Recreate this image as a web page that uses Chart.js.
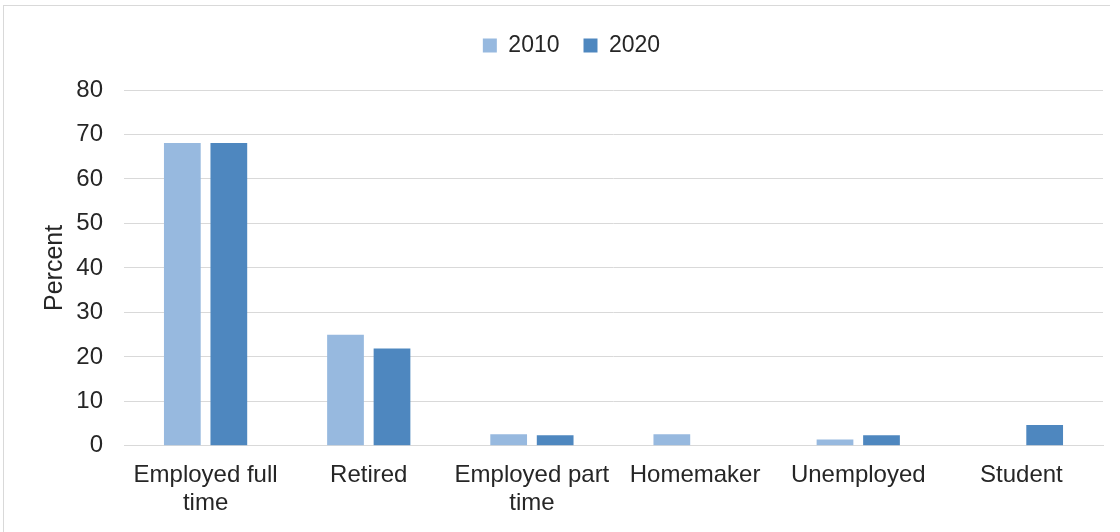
<!DOCTYPE html>
<html>
<head>
<meta charset="utf-8">
<script src="https://cdn.jsdelivr.net/npm/chart.js@4.4.1/dist/chart.umd.min.js"></script>
<style>
    html, body { margin: 0; padding: 0; background: #fff; }
    #wrap { position: relative; width: 1120px; height: 532px; overflow: hidden; }
    #frame { position: absolute; left: 3px; top: 5px; width: 1107px; height: 540px;
             border-top: 1px solid #d9d9d9; border-left: 1px solid #d9d9d9; box-sizing: border-box; }
    #chart { position: absolute; left: 0; top: 0; }
</style>
</head>
<body>
<div id="wrap">
    <div id="frame"></div>
    <canvas id="chart" width="1120" height="532"></canvas>
</div>
<script>
// Employment status, percent of respondents
const categories = [
    ['Employed full', 'time'],
    'Retired',
    ['Employed part', 'time'],
    'Homemaker',
    'Unemployed',
    'Student'
];
const seriesNames = ['2010', '2020'];
const values2010 = [68.1, 25.0, 2.6, 2.6, 1.4, 0];
const values2020 = [68.1, 21.9, 2.4, 0, 2.4, 4.7];
const yTicks = [0, 10, 20, 30, 40, 50, 60, 70, 80];

const colors = ['#97b9df', '#4e87bf'];
const textColor = '#262626';
const gridColor = '#d9d9d9';
const FONT = '"Liberation Sans", Arial, sans-serif';

Chart.defaults.font.family = FONT;
Chart.defaults.color = textColor;

// extra room between the legend and the plot
const legendGap = {
    id: 'legendGap',
    beforeInit(chart) {
        const fit = chart.legend.fit;
        chart.legend.fit = function () {
            fit.call(this);
            this.height += 23;
        };
    }
};

new Chart(document.getElementById('chart').getContext('2d'), {
    type: 'bar',
    data: {
        labels: categories,
        datasets: [
            { label: seriesNames[0], data: values2010, backgroundColor: colors[0] },
            { label: seriesNames[1], data: values2020, backgroundColor: colors[1] }
        ]
    },
    plugins: [legendGap],
    options: {
        responsive: false,
        animation: false,
        devicePixelRatio: 1,
        categoryPercentage: 0.57,
        barPercentage: 0.79,
        layout: { padding: { left: 40, right: 17, top: 10, bottom: 0 } },
        plugins: {
            legend: {
                position: 'top',
                labels: {
                    boxWidth: 14,
                    boxHeight: 14,
                    padding: 24,
                    color: textColor,
                    font: { size: 23 }
                }
            },
            tooltip: { enabled: false }
        },
        scales: {
            x: {
                grid: { display: false, drawTicks: false },
                border: { color: gridColor },
                ticks: {
                    padding: 15,
                    maxRotation: 0,
                    autoSkip: false,
                    color: textColor,
                    font: { size: 24, lineHeight: 1.17 }
                }
            },
            y: {
                min: 0,
                max: 80,
                afterBuildTicks: axis => { axis.ticks = yTicks.map(v => ({ value: v })); },
                afterFit: axis => { axis.width = 84; },
                grid: { color: gridColor, drawTicks: false },
                border: { display: false },
                ticks: {
                    padding: 21,
                    color: textColor,
                    font: { size: 24 }
                },
                title: {
                    display: true,
                    text: 'Percent',
                    color: textColor,
                    padding: 0,
                    font: { size: 25 }
                }
            }
        }
    }
});
</script>
</body>
</html>
